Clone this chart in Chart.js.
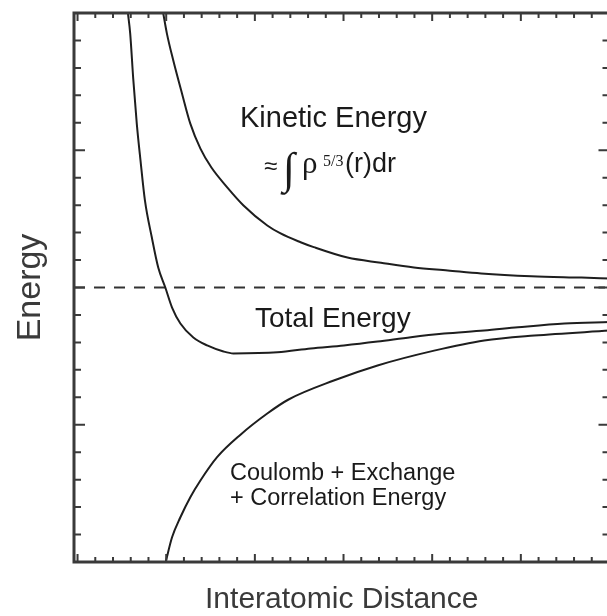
<!DOCTYPE html>
<html>
<head>
<meta charset="utf-8">
<script src="https://cdn.jsdelivr.net/npm/chart.js@4/dist/chart.umd.min.js"></script>
<style>
    html, body { margin: 0; padding: 0; background: #fff; overflow: hidden; }
    #caixa { position: relative; width: 610px; height: 616px; }
</style>
</head>
<body>
<div id="caixa"><canvas id="grafico"></canvas></div>
<script>
// Curvas (distância e energia em unidades arbitrárias)
const totalX = [2.84, 2.97, 3.14, 3.34, 3.55, 3.80, 4.19, 4.55, 4.95, 5.33, 5.80, 6.53, 7.31, 8.23, 8.79, 11.27, 13.15, 15.02, 16.92, 18.80, 20.67, 22.93, 24.84, 27.46, 30.0];
const totalY = [10.0, 9.25, 7.61, 5.97, 4.63, 3.17, 1.82, 0.73, 0.0, -0.73, -1.31, -1.82, -2.11, -2.33, -2.40, -2.36, -2.22, -2.11, -1.97, -1.81, -1.68, -1.57, -1.45, -1.31, -1.26];

const cineticaX = [4.83, 5.04, 5.40, 5.89, 6.36, 6.93, 7.55, 8.44, 9.36, 10.70, 11.45, 12.58, 13.32, 15.22, 17.11, 18.97, 20.88, 22.76, 25.59, 28.42, 30.0];
const cineticaY = [10.0, 9.25, 8.27, 7.07, 5.97, 5.06, 4.37, 3.65, 2.99, 2.26, 1.97, 1.65, 1.47, 1.09, 0.90, 0.73, 0.62, 0.51, 0.41, 0.36, 0.33];

const coulombX = [4.97, 5.33, 5.80, 6.36, 6.93, 7.87, 9.19, 10.70, 11.90, 14.45, 16.92, 20.11, 22.93, 25.76, 30.0];
const coulombY = [-10.0, -9.10, -8.37, -7.64, -7.03, -6.18, -5.36, -4.59, -4.08, -3.39, -2.84, -2.30, -1.93, -1.75, -1.57];

const zeroX = [-0.2, 30.0];
const zeroY = [0, 0];

// marcas dos eixos (maiores a cada 5)
const marcasX = Array.from({ length: 31 }, (_, i) => i);
const marcasY = Array.from({ length: 21 }, (_, i) => i - 10);

function pontos(xs, ys) {
    return xs.map((x, i) => ({ x: x, y: ys[i] }));
}

// Plugin: moldura com marcas para dentro
const moldura = {
    id: 'moldura',
    afterDatasetsDraw(chart) {
        const { ctx, chartArea: a, scales: { x, y } } = chart;
        ctx.save();
        ctx.strokeStyle = '#3a3a3a';
        ctx.lineWidth = 2;
        ctx.beginPath();
        marcasX.forEach(v => {
            const px = x.getPixelForValue(v);
            const len = v % 5 === 0 ? 8 : 5;
            ctx.moveTo(px, a.bottom); ctx.lineTo(px, a.bottom - len);
            ctx.moveTo(px, a.top); ctx.lineTo(px, a.top + len);
        });
        marcasY.forEach(v => {
            const py = y.getPixelForValue(v);
            const len = v % 5 === 0 ? 11 : 7;
            ctx.moveTo(a.left, py); ctx.lineTo(a.left + len, py);
            ctx.moveTo(a.right, py); ctx.lineTo(a.right - len, py);
        });
        ctx.stroke();
        ctx.lineWidth = 3;
        ctx.strokeRect(a.left, a.top, a.right - a.left, a.bottom - a.top);
        ctx.restore();
    }
};

// Plugin: textos dentro do gráfico
const textos = {
    id: 'textos',
    afterDraw(chart) {
        const ctx = chart.ctx;
        const sans = '"Liberation Sans", Arial, sans-serif';
        const serif = '"Liberation Serif", "Times New Roman", serif';
        ctx.save();
        ctx.fillStyle = '#1a1a1a';
        ctx.textBaseline = 'alphabetic';
        ctx.textAlign = 'left';

        ctx.font = '29px ' + sans;
        ctx.fillText('Kinetic Energy', 240, 127);

        ctx.font = '24px ' + sans;
        ctx.fillText('≈', 264, 174);
        ctx.font = '44px ' + serif;
        ctx.fillText('∫', 283, 183);
        ctx.font = '31px ' + serif;
        ctx.fillText('ρ', 302, 173);
        ctx.font = '16px ' + serif;
        ctx.fillText('5/3', 323, 166);
        ctx.font = '27px ' + sans;
        ctx.fillText('(r)dr', 345, 172);

        ctx.font = '28px ' + sans;
        ctx.fillText('Total Energy', 255, 327);

        ctx.font = '23.5px ' + sans;
        ctx.fillText('Coulomb + Exchange', 230, 480);
        ctx.fillText('+ Correlation Energy', 230, 505);
        ctx.restore();
    }
};

function criarGrafico() {
    const ctx = document.getElementById('grafico').getContext('2d');
    const linha = { borderColor: '#1e1e1e', borderWidth: 2, pointRadius: 0, fill: false, cubicInterpolationMode: 'monotone' };
    new Chart(ctx, {
        type: 'scatter',
        data: {
            datasets: [
                Object.assign({ label: 'Kinetic Energy', data: pontos(cineticaX, cineticaY), showLine: true }, linha),
                Object.assign({ label: 'Total Energy', data: pontos(totalX, totalY), showLine: true }, linha),
                Object.assign({ label: 'Coulomb + Exchange + Correlation Energy', data: pontos(coulombX, coulombY), showLine: true }, linha),
                { label: 'zero', data: pontos(zeroX, zeroY), showLine: true, borderColor: '#333', borderWidth: 2, borderDash: [11, 9], pointRadius: 0 }
            ]
        },
        options: {
            responsive: true,
            maintainAspectRatio: false,
            animation: false,
            layout: { padding: { top: 13, right: 0.5, left: 0, bottom: 0 } },
            plugins: { legend: { display: false }, tooltip: { enabled: false } },
            scales: {
                x: {
                    type: 'linear', min: -0.2, max: 30,
                    grid: { display: false, drawTicks: false },
                    border: { display: false },
                    ticks: { display: false },
                    title: {
                        display: true, text: 'Interatomic Distance', color: '#3a3a3a',
                        font: { family: '"Liberation Sans", Arial, sans-serif', size: 30, lineHeight: 1 },
                        padding: { top: 22.5, bottom: 1.5 }
                    }
                },
                y: {
                    type: 'linear', min: -10, max: 10,
                    grid: { display: false, drawTicks: false },
                    border: { display: false },
                    ticks: { display: false },
                    title: {
                        display: true, text: 'Energy', color: '#3a3a3a',
                        font: { family: '"Liberation Sans", Arial, sans-serif', size: 34, lineHeight: 1 },
                        padding: { top: 14, bottom: 26 }
                    }
                }
            }
        },
        plugins: [moldura, textos]
    });
}

document.addEventListener('DOMContentLoaded', criarGrafico);
</script>
</body>
</html>
